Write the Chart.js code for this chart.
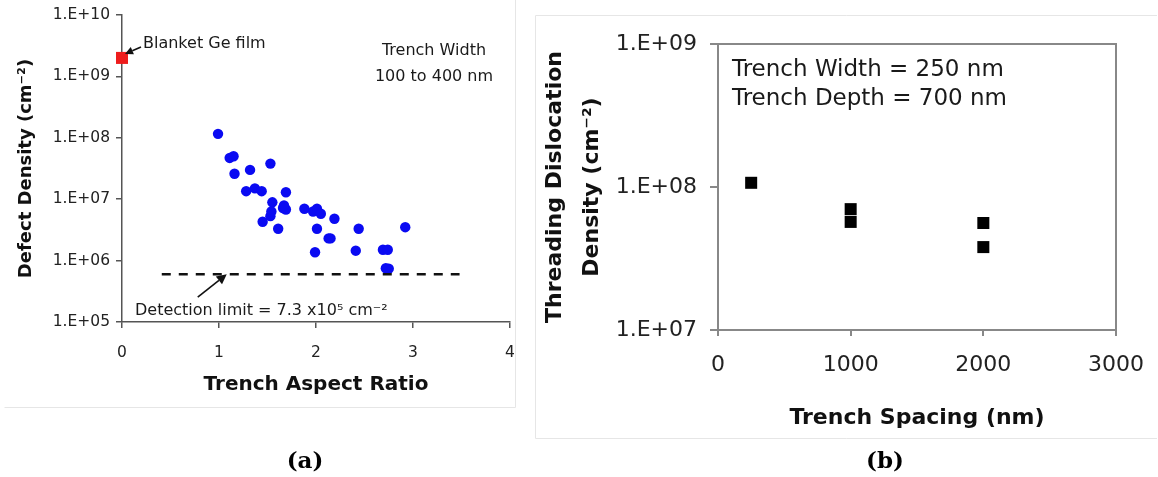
<!DOCTYPE html>
<html>
<head>
<meta charset="utf-8">
<script src="https://cdn.jsdelivr.net/npm/chart.js@4"></script>
<style>
  html, body { margin:0; padding:0; background:#fff; }
  body { width:1158px; height:477px; position:relative; overflow:hidden; }
  #ca { position:absolute; left:0; top:0; }
  #cb { position:absolute; left:535px; top:0; }
</style>
</head>
<body>
<canvas id="ca" width="520" height="477"></canvas>
<canvas id="cb" width="623" height="477"></canvas>
<script>
// ---------- Panel (a) data ----------
const aspectRatio = [0.99,1.11,1.15,1.16,1.32,1.53,1.28,1.37,1.44,1.69,1.55,1.45,1.53,1.54,1.61,1.66,1.69,1.67,1.88,1.97,2.01,2.05,2.01,1.99,2.13,2.15,2.19,2.44,2.41,2.69,2.74,2.75,2.72,2.92];
const defectDensity = [1.16e8,4.7e7,5.0e7,2.6e7,3.0e7,3.8e7,1.35e7,1.5e7,1.35e7,1.3e7,8.9e6,4.3e6,5.3e6,6.3e6,3.3e6,7.2e6,6.8e6,7.9e6,7.0e6,6.3e6,7.0e6,5.8e6,3.3e6,1.37e6,2.3e6,2.3e6,4.8e6,3.3e6,1.45e6,1.5e6,1.5e6,7.4e5,7.5e5,3.5e6];
const blanketRatio = [0];
const blanketDensity = [2.0e9];
const detectionRatio = [0.41, 3.48];
const detectionDensity = [6.0e5, 6.0e5];
const detectionArrowRatio = 1.08;
const xTicksA = [0,1,2,3,4];
const xLabelsA = ['0','1','2','3','4'];
const yTicksA = [1e5,1e6,1e7,1e8,1e9,1e10];
const yLabelsA = ['1.E+05','1.E+06','1.E+07','1.E+08','1.E+09','1.E+10'];

// ---------- Panel (b) data ----------
const trenchSpacing = [250,1000,1000,2000,2000];
const dislocationDensity = [1.07e8,7.0e7,5.7e7,5.6e7,3.8e7];
const xTicksB = [0,1000,2000,3000];
const xLabelsB = ['0','1000','2000','3000'];
const yTicksB = [1e7,1e8,1e9];
const yLabelsB = ['1.E+07','1.E+08','1.E+09'];

Chart.defaults.font.family = "'DejaVu Sans', sans-serif";
const pts = (xs, ys) => xs.map((x, i) => ({x: x, y: ys[i]}));
const noPad = s => { s.paddingLeft = 0; s.paddingRight = 0; s.paddingTop = 0; s.paddingBottom = 0; };

function arrow(ctx, x0, y0, x1, y1, head, width) {
  const a = Math.atan2(y1 - y0, x1 - x0);
  const bx = x1 - head * Math.cos(a), by = y1 - head * Math.sin(a);
  ctx.save();
  ctx.strokeStyle = '#111'; ctx.fillStyle = '#111'; ctx.lineWidth = 1.6;
  ctx.beginPath(); ctx.moveTo(x0, y0); ctx.lineTo(bx, by); ctx.stroke();
  ctx.beginPath();
  ctx.moveTo(x1, y1);
  ctx.lineTo(bx + width * Math.sin(a), by - width * Math.cos(a));
  ctx.lineTo(bx - width * Math.sin(a), by + width * Math.cos(a));
  ctx.closePath(); ctx.fill();
  ctx.restore();
}

const annA = {
  id: 'annA',
  afterDraw(c) {
    const ctx = c.ctx, xs = c.scales.x, ys = c.scales.y;
    ctx.save();
    ctx.strokeStyle = '#e6e6e6'; ctx.lineWidth = 1;
    ctx.beginPath(); ctx.moveTo(4.5, 407.5); ctx.lineTo(515.5, 407.5); ctx.lineTo(515.5, 0); ctx.stroke();
    const px = xs.getPixelForValue(blanketRatio[0]);
    const py = ys.getPixelForValue(blanketDensity[0]);
    arrow(ctx, px + 19, py - 11, px + 3, py - 4, 8, 4);
    ctx.fillStyle = '#1a1a1a';
    ctx.font = "16px 'DejaVu Sans'";
    ctx.textAlign = 'left'; ctx.textBaseline = 'middle';
    ctx.fillText('Blanket Ge film', px + 21, py - 14);
    ctx.textAlign = 'center';
    ctx.fillText('Trench Width', 434, 51);
    ctx.fillText('100 to 400 nm', 434, 77);
    const dx = xs.getPixelForValue(detectionArrowRatio);
    const dy = ys.getPixelForValue(detectionDensity[0]);
    arrow(ctx, dx - 29, dy + 23, dx, dy, 10, 5);
    ctx.textAlign = 'left';
    ctx.fillText('Detection limit = 7.3 x10\u2075 cm\u207B\u00B2', 135, 311);
    ctx.font = "bold 23px 'DejaVu Serif'";
    ctx.textAlign = 'center';
    ctx.fillStyle = '#000';
    ctx.fillText('(a)', 305, 462);
    ctx.restore();
  }
};

new Chart(document.getElementById('ca'), {
  type: 'scatter',
  data: { datasets: [
    { label: 'Detection limit', type: 'line', data: pts(detectionRatio, detectionDensity),
      borderColor: '#111', borderWidth: 2.5, borderDash: [9, 8], pointRadius: 0,
      showLine: true, fill: false, clip: false },
    { label: 'Trench samples', data: pts(aspectRatio, defectDensity), pointStyle: 'circle',
      pointRadius: 5.2, backgroundColor: '#0a0af2', borderColor: '#0a0af2', borderWidth: 0, clip: false },
    { label: 'Blanket Ge film', data: pts(blanketRatio, blanketDensity), pointStyle: 'rect',
      pointRadius: 8.5, backgroundColor: '#ee1c1c', borderColor: '#ee1c1c', borderWidth: 0, clip: false }
  ]},
  options: {
    responsive: false, animation: false, events: [],
    layout: { padding: { top: 15, right: 10, left: 0, bottom: 0 } },
    plugins: { legend: { display: false }, tooltip: { enabled: false } },
    scales: {
      x: {
        type: 'linear', min: 0, max: 4,
        afterBuildTicks: s => { s.ticks = xTicksA.map(v => ({ value: v })); },
        afterFit: s => { s.height = 155; noPad(s); },
        ticks: { font: { size: 15.5 }, color: '#222', padding: 16, autoSkip: false, maxRotation: 0,
                 callback: (v, i) => xLabelsA[i] },
        grid: { drawOnChartArea: false, drawTicks: true, tickLength: 6, color: '#555', lineWidth: 1.5 },
        border: { display: true, color: '#555', width: 1.5 },
        title: { display: true, text: 'Trench Aspect Ratio', color: '#111',
                 font: { size: 20, weight: 'bold' }, padding: { top: 0, bottom: 80 } }
      },
      y: {
        type: 'logarithmic', min: 1e5, max: 1e10,
        afterBuildTicks: s => { s.ticks = yTicksA.map(v => ({ value: v })); },
        afterFit: s => { s.width = 122; noPad(s); },
        ticks: { font: { size: 15.5 }, color: '#222', padding: 6, autoSkip: false,
                 callback: (v, i) => yLabelsA[i] },
        grid: { drawOnChartArea: false, drawTicks: true, tickLength: 6, color: '#555', lineWidth: 1.5 },
        border: { display: true, color: '#555', width: 1.5 },
        title: { display: true, text: 'Defect Density (cm\u207B\u00B2)', color: '#111',
                 font: { size: 18, weight: 'bold' }, padding: { top: 15.2, bottom: 0 } }
      }
    }
  },
  plugins: [annA]
});

const annB = {
  id: 'annB',
  afterDraw(c) {
    const ctx = c.ctx, a = c.chartArea;
    ctx.save();
    ctx.strokeStyle = '#e6e6e6'; ctx.lineWidth = 1;
    ctx.beginPath(); ctx.moveTo(622, 15.5); ctx.lineTo(0.5, 15.5); ctx.lineTo(0.5, 438.5); ctx.lineTo(622, 438.5); ctx.stroke();
    ctx.strokeStyle = '#888'; ctx.lineWidth = 2;
    ctx.strokeRect(a.left, a.top, a.right - a.left, a.bottom - a.top);
    ctx.fillStyle = '#1a1a1a';
    ctx.font = "23px 'DejaVu Sans'";
    ctx.textAlign = 'left'; ctx.textBaseline = 'middle';
    ctx.fillText('Trench Width = 250 nm', a.left + 14, 70);
    ctx.fillText('Trench Depth = 700 nm', a.left + 14, 99);
    ctx.font = "bold 23px 'DejaVu Serif'";
    ctx.textAlign = 'center'; ctx.fillStyle = '#000';
    ctx.fillText('(b)', 350, 462);
    ctx.restore();
  }
};

new Chart(document.getElementById('cb'), {
  type: 'scatter',
  data: { datasets: [
    { label: 'Threading dislocation density', data: pts(trenchSpacing, dislocationDensity),
      pointStyle: 'rect', pointRadius: 8.5, backgroundColor: '#000', borderColor: '#000', borderWidth: 0, clip: false }
  ]},
  options: {
    responsive: false, animation: false, events: [],
    layout: { padding: { top: 44, right: 42, left: 0, bottom: 0 } },
    plugins: { legend: { display: false }, tooltip: { enabled: false } },
    scales: {
      x: {
        type: 'linear', min: 0, max: 3000,
        afterBuildTicks: s => { s.ticks = xTicksB.map(v => ({ value: v })); },
        afterFit: s => { s.height = 147; noPad(s); },
        ticks: { font: { size: 22 }, color: '#222', padding: 16, autoSkip: false, maxRotation: 0,
                 callback: (v, i) => xLabelsB[i] },
        grid: { drawOnChartArea: false, drawTicks: true, tickLength: 6, color: '#888', lineWidth: 2 },
        border: { display: true, color: '#888', width: 2 },
        title: { display: true, text: 'Trench Spacing (nm)', color: '#111',
                 font: { size: 22, weight: 'bold' }, padding: { top: 0, bottom: 45.8 } }
      },
      y: {
        type: 'logarithmic', min: 1e7, max: 1e9,
        afterBuildTicks: s => { s.ticks = yTicksB.map(v => ({ value: v })); },
        afterFit: s => { s.width = 183; noPad(s); },
        ticks: { font: { size: 22 }, color: '#222', padding: 13, autoSkip: false,
                 callback: (v, i) => yLabelsB[i] },
        grid: { drawOnChartArea: false, drawTicks: true, tickLength: 8, color: '#888', lineWidth: 2 },
        border: { display: true, color: '#888', width: 2 },
        title: { display: true, text: ['Threading Dislocation', 'Density (cm\u207B\u00B2)'], color: '#111',
                 font: { size: 22, weight: 'bold', lineHeight: 1.7 }, padding: { top: 1.3, bottom: 0 } }
      }
    }
  },
  plugins: [annB]
});
</script>
</body>
</html>
